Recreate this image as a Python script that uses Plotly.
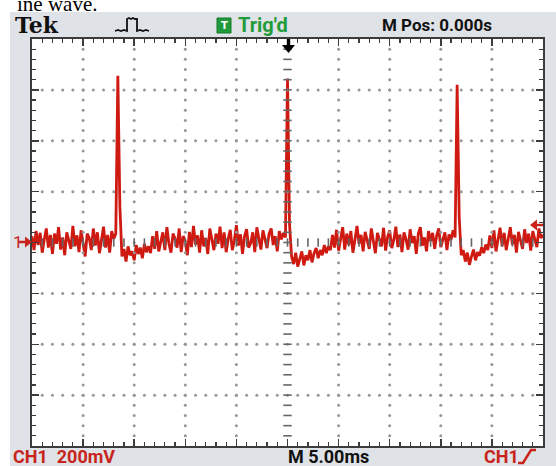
import numpy as np
import plotly.graph_objects as go

# ---------------- data ----------------
time_range_ms = [-25.0, 25.0]          # 10 div x 5.00 ms
volt_range_mv = [-800.0, 800.0]        # 8 div x 200 mV

noise_mv = [
    25, -30, 45, -10, 38, -40, 12, 55, -20, 30,
    -45, 35, -5, 60, -28, 20, -50, 40, 8, -25,
    65, -15, 28, -38, 48, 0, -55, 35, 18, -30,
    55, -12, 40, -42, 10, 62, -20, 30, -40, 45,
    15, 35,
    20, 10,
    -55, -25, -75, -15, -50, -35, -70, -10, -45, -20, -62, -5, -38, -15, -42,
    25, -25, 45, -35, 10, 40, -30, 60, -5, -40,
    35, 15, -20, 55, -38, 25, 5, -50, 42, -18,
    65, -8, 28, -40, 48, -15, 18, -45, 55, 10,
    -30, 35, -5, 62, -22, 40, -38, 15, 50, -30,
    8, 68, -12, 32, -45, 25, 52, -20, -2, 40,
    -38, 60, 15, -28, 48, 5, -22, 35, 55, -10,
    25, -35, 45, 12, 38, 20,
    20, 10,
    -55, -85, -40, -95, -60, -35, -90, -50, -70, -30,
    -78, -42, -22, -62, -30, -50, -10, -42, -15, -30,
    30, -20, 50, -32, 15, 60, -28, 35, -10, 45,
    -40, 22, 65, -5, 30, -35, 42, 8, -25, 55,
    2, -42, 38, 15, -15, 58, -32, 22, 48, -22,
    10, 62, -18, 32, -38, 40, 12, -28, 52, -2,
    25, -45, 35, 60, -12, 20, -35, 45, 5, 38,
    -25, 28, 55, -18, 15, 40, -30, 32, 10, 48,
    20,
    20, 10,
    -50, -30, -75, -40, -88, -55, -28, -70, -38, -52, -18, -42, -8, -30,
    28, -22, 48, -35, 12, 58, -15, 38, -30, 22,
    60, -8, 30, -40, 42, 8, -25, 52, -2, 35,
    -32, 45, 15, -18, 55, 18, 30,
]
spike_time_ms = [-16.6, 0.0, 16.6]
spike_peak_mv = [655, 645, 620]
spike_shoulder_mv = [140, 70, 100]

header_labels = ["Tek", "Trig'd", "M Pos: 0.000s"]
footer_labels = ["CH1  200mV", "M 5.00ms", "CH1"]

# ---------------- build trace ----------------
t = np.linspace(time_range_ms[0], time_range_ms[1], len(noise_mv))
v = np.array(noise_mv, dtype=float)
step = t[1] - t[0]
for st, pk, sh in zip(spike_time_ms, spike_peak_mv, spike_shoulder_mv):
    i = int(round((st - time_range_ms[0]) / step))
    v[i] = pk
    v[i + 1] = sh

W, H = 556, 466
ML, MR, MT, MB = 32, 13, 39, 20
PW, PH = W - ML - MR, H - MT - MB


def fx(px):
    return (px - ML) / PW


def fy(py):
    return (H - MB - py) / PH


def path(points, close=False):
    s = "M" + " L".join(f"{fx(x):.5f},{fy(y):.5f}" for x, y in points)
    return s + (" Z" if close else "")


RED = "#cf1a12"
TXTRED = "#c8241b"
GREEN = "#1f9b3b"
GRIDC = "#979797"
UIFONT = "Roboto, Liberation Sans Narrow, DejaVu Sans Condensed, sans-serif"

fig = go.Figure()

fig.add_trace(go.Scatter(x=t, y=v, mode="lines",
                         line=dict(color=RED, width=2.8),
                         hoverinfo="skip", showlegend=False))

# graticule dots
gx, gy = [], []
for xv in [-20, -15, -10, -5, 5, 10, 15, 20]:
    for yv in np.arange(-760, 761, 40):
        gx.append(xv); gy.append(yv)
for yv in [-600, -400, -200, 200, 400, 600]:
    for xv in np.arange(-24, 25, 1):
        gx.append(xv); gy.append(yv)
fig.add_trace(go.Scatter(x=gx, y=gy, mode="markers",
                         marker=dict(color=GRIDC, size=3),
                         hoverinfo="skip", showlegend=False))
# centre lines with small dashes
cy = np.arange(-760, 761, 40)
fig.add_trace(go.Scatter(x=[0] * len(cy), y=cy, mode="markers",
                         marker=dict(symbol="line-ew", size=6,
                                     line=dict(color="#666666", width=1.6)),
                         hoverinfo="skip", showlegend=False))
cx = np.arange(-24, 25, 1)
fig.add_trace(go.Scatter(x=cx, y=[0] * len(cx), mode="markers",
                         marker=dict(symbol="line-ns", size=6,
                                     line=dict(color="#666666", width=1.6)),
                         hoverinfo="skip", showlegend=False))

axis_common = dict(showgrid=False, zeroline=False, showticklabels=False,
                   showline=True, linecolor="#3c3c3c", linewidth=2,
                   mirror="ticks", ticks="inside", ticklen=7, tickwidth=1.5,
                   tickcolor="#3c3c3c", fixedrange=True)
fig.update_xaxes(range=time_range_ms, dtick=5, tick0=0,
                 minor=dict(dtick=1, ticks="inside", ticklen=4, tickwidth=1.2,
                            tickcolor="#3c3c3c"),
                 **axis_common)
fig.update_yaxes(range=volt_range_mv, dtick=200, tick0=0,
                 minor=dict(dtick=40, ticks="inside", ticklen=4, tickwidth=1.2,
                            tickcolor="#3c3c3c"),
                 **axis_common)

shapes = [
    # bezel
    dict(type="rect", xref="paper", yref="paper", layer="below",
         x0=fx(10), x1=fx(W), y0=fy(12), y1=fy(H),
         fillcolor="#dfe2e6", line=dict(width=0)),
    dict(type="rect", xref="paper", yref="paper", layer="below",
         x0=0, x1=1, y0=0, y1=1, fillcolor="white", line=dict(width=0)),
    # trigger position arrow (top)
    dict(type="path", xref="paper", yref="paper",
         path=path([(286.8, 39), (290.2, 39), (290.2, 46), (286.8, 46)], True),
         fillcolor="black", line=dict(width=0)),
    dict(type="path", xref="paper", yref="paper",
         path=path([(282, 45), (295, 45), (288.5, 53)], True),
         fillcolor="black", line=dict(width=0)),
    # CH1 ground marker (left)
    dict(type="path", xref="paper", yref="paper",
         path=path([(19, 242), (27, 242)]), line=dict(color=TXTRED, width=2.5)),
    dict(type="path", xref="paper", yref="paper",
         path=path([(25, 236.5), (32, 242), (25, 247.5)], True),
         fillcolor=TXTRED, line=dict(width=0)),
    # trigger level marker (right)
    dict(type="path", xref="paper", yref="paper",
         path=path([(536, 225), (543, 225)]), line=dict(color=TXTRED, width=2.5)),
    dict(type="path", xref="paper", yref="paper",
         path=path([(530, 225), (537, 219.5), (537, 230.5)], True),
         fillcolor=TXTRED, line=dict(width=0)),
    # rising edge symbol
    dict(type="path", xref="paper", yref="paper",
         path=path([(518, 463), (523, 463), (531, 450), (536, 450)]),
         line=dict(color=TXTRED, width=2.5)),
    # acquisition icon
    dict(type="path", xref="paper", yref="paper",
         path=path([(115, 31), (118, 30), (121, 31), (124, 30), (127, 31),
                    (127, 19), (129, 18), (131, 19), (133, 18), (135, 19),
                    (137, 19), (137, 31), (140, 30), (143, 31), (146, 30),
                    (149, 31)]),
         line=dict(color="#111111", width=1.8)),
    # trig'd box
    dict(type="rect", xref="paper", yref="paper",
         x0=fx(217), x1=fx(231), y0=fy(33), y1=fy(18),
         fillcolor=GREEN, line=dict(color="#147a2c", width=1)),
]

ann = [
    dict(text="ine wave.", x=fx(15), y=fy(4), xanchor="left", yanchor="middle",
         font=dict(family="Liberation Serif, Times New Roman, serif", size=21,
                   color="black")),
    dict(text="<b>" + header_labels[0] + "</b>", x=fx(13), y=fy(25.5),
         xanchor="left", yanchor="middle",
         font=dict(family="DejaVu Serif, serif", size=22, color="#111111")),
    dict(text="<b>T</b>", x=fx(224), y=fy(25.5), xanchor="center",
         yanchor="middle",
         font=dict(family="DejaVu Sans, sans-serif", size=10, color="white")),
    dict(text="<b>" + header_labels[1] + "</b>", x=fx(236), y=fy(25),
         xanchor="left", yanchor="middle",
         font=dict(family=UIFONT, size=20, color=GREEN)),
    dict(text="<b>" + header_labels[2] + "</b>", x=fx(380), y=fy(25),
         xanchor="left", yanchor="middle",
         font=dict(family=UIFONT, size=17, color="#111111")),
    dict(text="1", x=fx(11), y=fy(242), xanchor="left", yanchor="middle",
         font=dict(family=UIFONT, size=17, color=TXTRED)),
    dict(text="<b>" + footer_labels[0].replace(" ", "&nbsp;") + "</b>",
         x=fx(11), y=fy(456), xanchor="left", yanchor="middle",
         font=dict(family=UIFONT, size=18, color=TXTRED)),
    dict(text="<b>" + footer_labels[1] + "</b>", x=fx(286), y=fy(456),
         xanchor="left", yanchor="middle",
         font=dict(family=UIFONT, size=18, color="#111111")),
    dict(text="<b>" + footer_labels[2] + "</b>", x=fx(482), y=fy(456),
         xanchor="left", yanchor="middle",
         font=dict(family=UIFONT, size=18, color=TXTRED)),
]
for a in ann:
    a.update(xref="paper", yref="paper", showarrow=False)

fig.update_layout(width=W, height=H, autosize=False,
                  margin=dict(l=ML, r=MR, t=MT, b=MB, pad=0),
                  paper_bgcolor="white", plot_bgcolor="white",
                  shapes=shapes, annotations=ann, showlegend=False)

fig.write_html("out.html",
               config={"displayModeBar": False, "staticPlot": True},
               post_script="document.body.style.margin='0';"
                           "document.body.style.overflow='hidden';")
